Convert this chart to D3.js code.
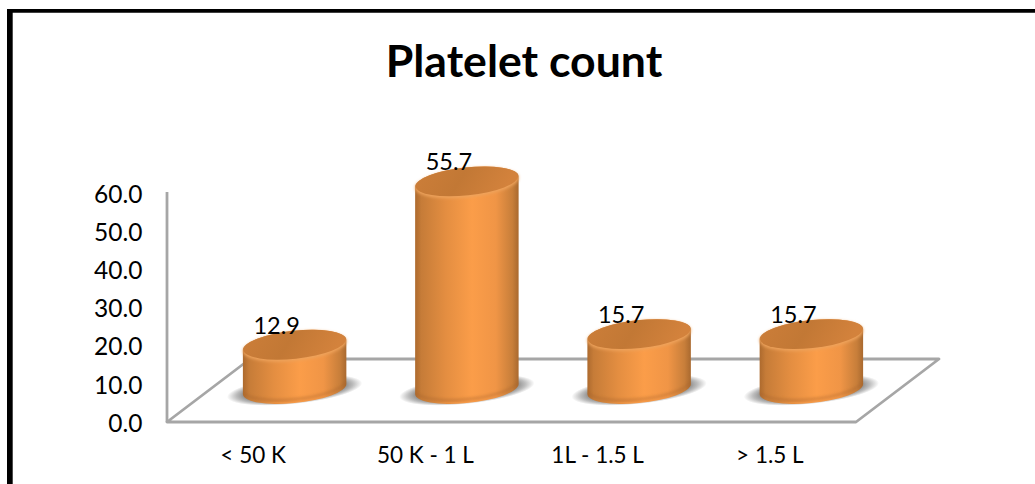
<!DOCTYPE html>
<html>
<head>
<meta charset="utf-8">
<script src="https://cdn.jsdelivr.net/npm/d3@7"></script>
<style>
html,body{margin:0;padding:0;background:#fff;overflow:hidden}
svg{display:block}
text{font-family:Lato,"Noto Sans",sans-serif;fill:#000}
</style>
</head>
<body>
<svg id="chart" width="1035" height="484"></svg>
<script>
const categories = ["< 50 K", "50 K - 1 L", "1L - 1.5 L", "> 1.5 L"];
const values = [12.9, 55.7, 15.7, 15.7];
const yTicks = [0, 10, 20, 30, 40, 50, 60];
const chartTitle = "Platelet count";

const svg = d3.select("#chart");
const defs = svg.append("defs");

const x = d3.scaleBand().domain(categories).range([167, 856]);
const y = d3.scaleLinear().domain([0, 60]).range([422, 193]);

// Oblique projection of the floor
const depthX = 83, depthY = 63;
const cylX = 41.5;          // cylinders stand mid-way across the floor
const topLift = 28;         // lid centre relative to the front-plane value
const baseY = y(0) - 33;    // centre of each cylinder's foot

// Cylinder ellipse shape
const rx = 52, ry = 14, tilt = -6;
const rad = tilt * Math.PI / 180;
const c = Math.cos(rad), s = Math.sin(rad);
const halfW = Math.sqrt(rx*rx*c*c + ry*ry*s*s);
const skew = (rx*rx - ry*ry) * s * c / halfW;   // vertical shift at the side extremes

// Gradients and filters
const side = defs.append("linearGradient").attr("id", "side");
[[0, "#ad6a2e"], [0.06, "#c67c38"], [0.3, "#e48e41"], [0.55, "#fb9d49"], [0.78, "#f09546"], [0.94, "#c77e3a"], [1, "#a9692f"]]
  .forEach(([o, col]) => side.append("stop").attr("offset", o).attr("stop-color", col));

const lid = defs.append("linearGradient").attr("id", "lid").attr("x1", 0).attr("x2", 1).attr("y1", 0).attr("y2", 0.2);
[[0, "#cc7e39"], [0.5, "#c27835"], [1, "#d3823c"]]
  .forEach(([o, col]) => lid.append("stop").attr("offset", o).attr("stop-color", col));

const shade = defs.append("radialGradient").attr("id", "shade");
[[0, "#707070"], [0.7, "#808080"], [0.86, "#bcbcbc"], [1, "#ffffff"]]
  .forEach(([o, col]) => shade.append("stop").attr("offset", o).attr("stop-color", col));

defs.append("filter").attr("id", "soft").append("feGaussianBlur").attr("stdDeviation", 1.4);

// Title
svg.append("text").attr("x", 524).attr("y", 77).attr("text-anchor", "middle")
  .style("font-weight", 700).style("font-size", "44.6px").text(chartTitle);

// Frame: heavy rule along the top and left only
svg.append("line").attr("x1", 9.85).attr("x2", 9.85).attr("y1", 9).attr("y2", 484)
  .attr("stroke", "#000").attr("stroke-width", 5.7);
svg.append("line").attr("x1", 7).attr("x2", 1035).attr("y1", 10.85).attr("y2", 10.85)
  .attr("stroke", "#000").attr("stroke-width", 3.7);

// Axis wall and floor outline
const floor = [
  [x.range()[0], y(0)],
  [x.range()[1], y(0)],
  [x.range()[1] + depthX, y(0) - depthY],
  [x.range()[0] + depthX, y(0) - depthY]
];
svg.append("path").attr("d", d3.line()(floor) + "Z")
  .attr("fill", "none").attr("stroke", "#a6a6a6").attr("stroke-width", 2.8).attr("stroke-linejoin", "round");
svg.append("line").attr("x1", x.range()[0]).attr("x2", x.range()[0]).attr("y1", y(60) - 1).attr("y2", y(0))
  .attr("stroke", "#a6a6a6").attr("stroke-width", 2.8);

// Value axis
const yAxis = d3.axisLeft(y).tickValues(yTicks).tickSize(0).tickFormat(d3.format(".1f"));
svg.append("g").attr("transform", "translate(142.5,0)").call(yAxis)
  .call(g => g.select(".domain").remove())
  .call(g => g.selectAll("text").attr("x", 0).attr("dy", "0.38em").style("font-size", "24.5px").style("font-family", "Lato,sans-serif").style("fill", "#000"));

// Category axis
const xAxis = d3.axisBottom(x).tickSize(0);
svg.append("g").attr("transform", "translate(0,447)").call(xAxis)
  .call(g => g.select(".domain").remove())
  .call(g => g.selectAll("text").attr("y", 0).attr("dy", "0.71em").style("font-size", "22.5px").style("font-family", "Lato,sans-serif").style("fill", "#000"));

// Cylinders
const bars = svg.selectAll("g.bar").data(categories.map((k, i) => ({ k, v: values[i] })))
  .join("g").attr("class", "bar")
  .attr("transform", d => `translate(${x(d.k) + x.bandwidth() / 2 + cylX},0)`);

bars.append("ellipse").attr("cx", 0).attr("cy", baseY + 1).attr("rx", 68).attr("ry", 14)
  .attr("transform", `rotate(${tilt} 0 ${baseY + 1})`).attr("fill", "url(#shade)");

const topY = d => y(d.v) - topLift;

bars.append("path").attr("fill", "url(#side)").attr("d", d => {
  const t = topY(d);
  return `M${-halfW},${t - skew}` +
    `L${-halfW},${baseY - skew}` +
    `A${rx},${ry} ${tilt} 0 0 ${halfW},${baseY + skew}` +
    `L${halfW},${t + skew}` +
    `A${rx},${ry} ${tilt} 0 0 ${-halfW},${t - skew}Z`;
});

// Darker rim along the foot of each cylinder
bars.append("path").attr("fill", "none").attr("stroke", "#a5622a").attr("stroke-width", 2).attr("opacity", 0.55)
  .attr("filter", "url(#soft)")
  .attr("d", `M${-halfW + 1},${baseY - skew - 1}A${rx},${ry} ${tilt} 0 0 ${halfW - 1},${baseY + skew - 1}`);

// Lit rim, then the lid
bars.append("ellipse").attr("cx", 0).attr("cy", d => topY(d) + 1.5).attr("rx", rx).attr("ry", ry + 0.5)
  .attr("transform", d => `rotate(${tilt} 0 ${topY(d) + 1.5})`)
  .attr("fill", "#eea35c").attr("filter", "url(#soft)");
bars.append("ellipse").attr("cx", 0).attr("cy", topY).attr("rx", rx - 0.5).attr("ry", ry)
  .attr("transform", d => `rotate(${tilt} 0 ${topY(d)})`).attr("fill", "url(#lid)");

// Value labels
bars.append("text").attr("x", -18).attr("y", d => topY(d) - 11).attr("text-anchor", "middle")
  .style("font-size", "23.5px").text(d => d.v.toFixed(1));
</script>
</body>
</html>
